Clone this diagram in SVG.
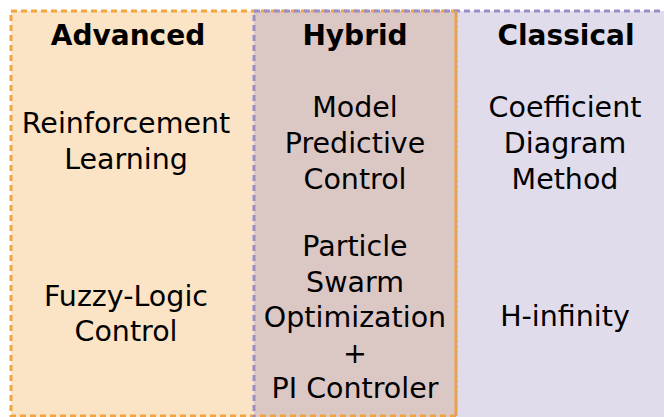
<svg xmlns="http://www.w3.org/2000/svg" width="664" height="417" viewBox="0 0 664 417">
<style>
.t{font-family:"DejaVu Sans",Verdana,sans-serif;font-size:28.5px;fill:#000;text-anchor:middle}
.h{font-family:"DejaVu Sans",Verdana,sans-serif;font-size:28px;font-weight:bold;fill:#000;text-anchor:middle}
.so{fill:none;stroke:#F2A43F;stroke-width:3;stroke-dasharray:6 4}
.sp{fill:none;stroke:#9A8EC8;stroke-width:3;stroke-dasharray:6 4}
</style>
<rect width="664" height="417" fill="#fff"/>
<g id="fills">
<rect x="11" y="11" width="445" height="420" fill="#FBE3C5"/>
<rect x="456" y="11" width="220" height="420" fill="#E0DCEC"/>
<rect x="254" y="11" width="202" height="420" fill="#DBC7C4"/>
</g>
<g id="advanced">
<rect class="so" x="11" y="11" width="445" height="405"/>
<text class="h" x="128" y="45">Advanced</text>
<text class="t" x="126" y="133">Reinforcement</text>
<text class="t" x="126" y="169">Learning</text>
<text class="t" x="126" y="306">Fuzzy-Logic</text>
<text class="t" x="126" y="341">Control</text>
</g>
<g id="classical">
<rect class="sp" x="254" y="11" width="430" height="430"/>
<text class="h" x="566" y="45">Classical</text>
<text class="t" x="565" y="117">Coefficient</text>
<text class="t" x="565" y="153">Diagram</text>
<text class="t" x="565" y="189">Method</text>
<text class="t" x="565" y="326">H-infinity</text>
</g>
<g id="hybrid">
<line x1="456" y1="11" x2="456" y2="416" stroke="#E0A060" stroke-width="3" stroke-dasharray="6 4"/>
<text class="h" x="355" y="45">Hybrid</text>
<text class="t" x="355" y="117">Model</text>
<text class="t" x="355" y="153">Predictive</text>
<text class="t" x="355" y="189">Control</text>
<text class="t" x="355" y="256">Particle</text>
<text class="t" x="355" y="292">Swarm</text>
<text class="t" x="355" y="327">Optimization</text>
<text class="t" x="355" y="363">+</text>
<text class="t" x="355" y="398">PI Controler</text>
</g>
<g id="connectors"></g>
</svg>
